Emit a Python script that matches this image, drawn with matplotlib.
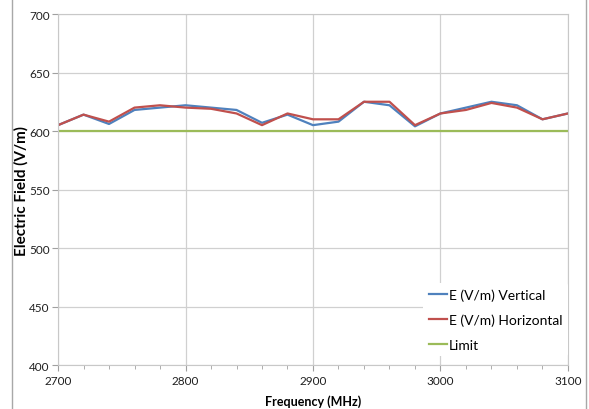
import matplotlib
matplotlib.use("Agg")
from matplotlib import pyplot as plt
from matplotlib.lines import Line2D
from matplotlib.ticker import MultipleLocator

freq = [2700, 2720, 2740, 2760, 2780, 2800, 2820, 2840, 2860, 2880, 2900,
        2920, 2940, 2960, 2980, 3000, 3020, 3040, 3060, 3080, 3100]
e_vertical = [605, 614, 606, 618, 620, 622, 620, 618, 607, 614, 605,
              608, 625, 622, 604, 615, 620, 625, 622, 610, 615]
e_horizontal = [605, 614, 608, 620, 622, 620, 619, 615, 605, 615, 610,
                610, 625, 625, 605, 615, 618, 624, 620, 610, 615]
limit = [600] * len(freq)

plt.rcParams['font.family'] = ['Lato', 'DejaVu Sans']

fig = plt.figure(figsize=(5.89, 4.10), dpi=100)
ax = fig.add_axes([0.0985, 0.1073, 0.8658, 0.8561])

ax.plot(freq, e_vertical, color="#4F81BD", lw=1.6, label="E (V/m) Vertical")
ax.plot(freq, e_horizontal, color="#C0504D", lw=1.6, label="E (V/m) Horizontal")
ax.plot(freq, limit, color="#9BBB59", lw=1.6, label="Limit")

ax.set_xlim(2700, 3100)
ax.set_ylim(400, 700)
ax.xaxis.set_major_locator(MultipleLocator(100))
ax.xaxis.set_minor_locator(MultipleLocator(20))
ax.yaxis.set_major_locator(MultipleLocator(50))

ax.grid(True, which="major", color="#D0D0D0", lw=0.9)
ax.set_axisbelow(True)
for sp in ax.spines.values():
    sp.set_color("#C8C8C8")
ax.tick_params(which="major", length=4, color="#A0A0A0", labelsize=8.5, labelcolor="#202020")
ax.tick_params(axis="y", pad=2)
ax.tick_params(which="minor", length=3, color="#A0A0A0")

ax.set_xlabel("Frequency (MHz)", fontsize=9, fontweight="bold", labelpad=6)
ax.set_ylabel("Electric Field (V/m)", fontsize=11, fontweight="bold")
ax.yaxis.set_label_coords(-0.058, 0.5)

leg = ax.legend(loc="lower right", bbox_to_anchor=(1.014, 0.005), frameon=True,
                fontsize=10, handlelength=1.3, handletextpad=0.15,
                labelspacing=0.9, borderpad=0.4)
leg.get_frame().set_edgecolor("none")
leg.get_frame().set_facecolor("white")
leg.get_frame().set_alpha(1)

# outer chart frame
fig.add_artist(Line2D([0.021, 0.021], [0, 1], color="#A8A8A8", lw=1.0))
fig.add_artist(Line2D([0.995, 0.995], [0, 1], color="#A8A8A8", lw=1.0))

fig.savefig("out.png", dpi=100)
